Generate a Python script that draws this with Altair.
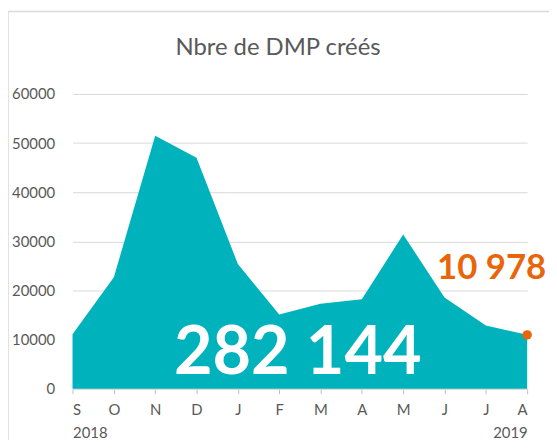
import altair as alt
import pandas as pd

months = ["S", "O", "N", "D", "J", "F", "M", "A", "M", "J", "J", "A"]
years = ["2018", "", "", "", "", "", "", "", "", "", "", "2019"]
values = [11100, 22700, 51500, 47000, 25400, 15100, 17300, 18200, 31400, 18600, 12900, 10978]
total_label = "282 144"
last_label = "10 978"
title_text = "Nbre de DMP créés"
y_ticks = [0, 10000, 20000, 30000, 40000, 50000, 60000]

TEAL = "#00B2BB"
ORANGE = "#E8650A"
GREY = "#595959"
FONT = "Lato"

df = pd.DataFrame({"i": list(range(len(months))), "month": months, "value": values})
last_df = df.tail(1).copy()
total_df = pd.DataFrame({"i": [5.45], "value": [7100], "label": [total_label]})
last_text_df = pd.DataFrame({"i": [8.82], "value": [24600], "label": [last_label]})

label_expr = "[" + ",".join(f"['{m}','{y}']" for m, y in zip(months, years)) + "][datum.value]"

x_enc = alt.X("i:Q",
              scale=alt.Scale(domain=[0, len(months) - 1], nice=False, zero=False),
              axis=alt.Axis(values=list(range(len(months))), labelExpr=label_expr, title=None,
                            grid=False, domainColor="#d9d9d9", tickColor="#bfbfbf", tickSize=5,
                            labelPadding=9, labelLineHeight=23, labelFontSize=15,
                            labelColor=GREY, labelFont=FONT))
y_enc = alt.Y("value:Q",
              scale=alt.Scale(domain=[0, 60000], nice=False),
              axis=alt.Axis(values=y_ticks, format="d", title=None, grid=True, gridColor="#d9d9d9",
                            domain=False, ticks=False, labelPadding=18, labelFontSize=15,
                            labelColor=GREY, labelFont=FONT))

frame = alt.Chart(pd.DataFrame({"a": [0]})).mark_rect(
    fill="transparent", stroke="#d9d9d9", strokeWidth=1.5
).encode(x=alt.value(-65), x2=alt.value(700), y=alt.value(-83), y2=alt.value(600))

title = alt.Chart(pd.DataFrame({"t": [title_text]})).mark_text(
    fontSize=24, font=FONT, color=GREY, align="center", baseline="middle"
).encode(x=alt.value(207), y=alt.value(-46), text="t:N")

area = alt.Chart(df).mark_area(color=TEAL, opacity=1).encode(x=x_enc, y=y_enc)

dot = alt.Chart(last_df).mark_point(filled=True, color=ORANGE, size=90, opacity=1).encode(
    x="i:Q", y="value:Q")

last_text = alt.Chart(last_text_df).mark_text(
    color=ORANGE, fontSize=35, fontWeight="bold", font=FONT, align="left", baseline="middle"
).encode(x="i:Q", y="value:Q", text="label:N")

total_text = alt.Chart(total_df).mark_text(
    color="white", fontSize=67, fontWeight="bold", font=FONT, align="center", baseline="middle"
).encode(x="i:Q", y="value:Q", text="label:N")

chart = alt.layer(frame, title, area, dot, last_text, total_text).properties(
    width=458, height=297,
    autosize=alt.AutoSizeParams(type="none"),
    padding={"left": 65, "top": 85, "right": 22, "bottom": 50},
).configure_view(stroke=None)

chart.save("out.html", embed_options={"renderer": "svg", "actions": False})
